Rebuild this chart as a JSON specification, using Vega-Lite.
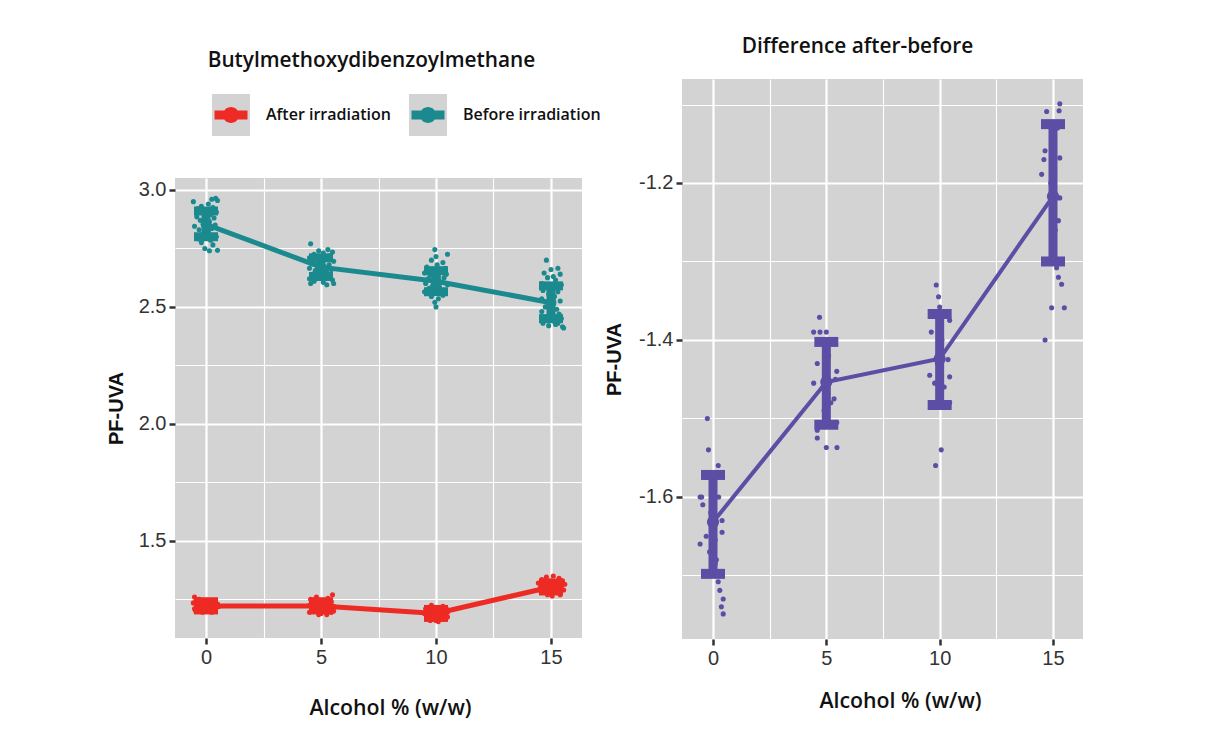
{
  "$schema": "https://vega.github.io/schema/vega-lite/v6.json",
  "background": "white",
  "padding": {"left": 106, "top": 36, "right": 5, "bottom": 5},
  "spacing": 22,
  "config": {
    "view": {"fill": "#d3d3d3", "stroke": null},
    "font": "Open Sans",
    "axis": {
      "domain": false,
      "gridColor": "#ffffff",
      "tickColor": "#333333",
      "tickSize": 6,
      "tickWidth": 2.5,
      "labelFont": "Liberation Sans",
      "labelFontSize": 20,
      "labelColor": "#333333",
      "labelPadding": 3,
      "titleColor": "#111111"
    },
    "title": {"font": "Open Sans", "fontSize": 20.8, "fontWeight": 600, "color": "#111111"}
  },
  "datasets": {
    "summ": [
      {"g": "After irradiation", "k": "ka", "x": 0, "m": 1.222, "lo": 1.205, "hi": 1.24},
      {"g": "After irradiation", "k": "ka", "x": 5, "m": 1.222, "lo": 1.205, "hi": 1.24},
      {"g": "After irradiation", "k": "ka", "x": 10, "m": 1.19, "lo": 1.173, "hi": 1.207},
      {"g": "After irradiation", "k": "ka", "x": 15, "m": 1.303, "lo": 1.286, "hi": 1.32},
      {"g": "Before irradiation", "k": "kb", "x": 0, "m": 2.853, "lo": 2.8, "hi": 2.91},
      {"g": "Before irradiation", "k": "kb", "x": 5, "m": 2.67, "lo": 2.63, "hi": 2.71},
      {"g": "Before irradiation", "k": "kb", "x": 10, "m": 2.61, "lo": 2.565, "hi": 2.655},
      {"g": "Before irradiation", "k": "kb", "x": 15, "m": 2.518, "lo": 2.45, "hi": 2.59},
      {"g": "Difference", "k": "kd", "x": 0, "m": -1.632, "lo": -1.698, "hi": -1.572},
      {"g": "Difference", "k": "kd", "x": 5, "m": -1.4535, "lo": -1.508, "hi": -1.4025},
      {"g": "Difference", "k": "kd", "x": 10, "m": -1.424, "lo": -1.483, "hi": -1.367},
      {"g": "Difference", "k": "kd", "x": 15, "m": -1.217, "lo": -1.3, "hi": -1.125}
    ],
    "pts": [
      {"g": "Before irradiation", "a": -0.55, "v": 2.95},
      {"g": "Before irradiation", "a": 0.42, "v": 2.964},
      {"g": "Before irradiation", "a": 0.25, "v": 2.96},
      {"g": "Before irradiation", "a": 0.5, "v": 2.955},
      {"g": "Before irradiation", "a": 0.1, "v": 2.94},
      {"g": "Before irradiation", "a": -0.2, "v": 2.93},
      {"g": "Before irradiation", "a": 0.3, "v": 2.925},
      {"g": "Before irradiation", "a": -0.35, "v": 2.92},
      {"g": "Before irradiation", "a": 0.05, "v": 2.91},
      {"g": "Before irradiation", "a": 0.45, "v": 2.905},
      {"g": "Before irradiation", "a": -0.1, "v": 2.9},
      {"g": "Before irradiation", "a": 0.2, "v": 2.895},
      {"g": "Before irradiation", "a": -0.4, "v": 2.885},
      {"g": "Before irradiation", "a": 0.35, "v": 2.88},
      {"g": "Before irradiation", "a": -0.25, "v": 2.87},
      {"g": "Before irradiation", "a": 0.15, "v": 2.865},
      {"g": "Before irradiation", "a": -0.05, "v": 2.855},
      {"g": "Before irradiation", "a": 0.4, "v": 2.85},
      {"g": "Before irradiation", "a": -0.5, "v": 2.845},
      {"g": "Before irradiation", "a": 0.25, "v": 2.835},
      {"g": "Before irradiation", "a": -0.3, "v": 2.83},
      {"g": "Before irradiation", "a": 0.1, "v": 2.82},
      {"g": "Before irradiation", "a": -0.15, "v": 2.81},
      {"g": "Before irradiation", "a": 0.45, "v": 2.8},
      {"g": "Before irradiation", "a": -0.4, "v": 2.795},
      {"g": "Before irradiation", "a": 0.2, "v": 2.785},
      {"g": "Before irradiation", "a": -0.2, "v": 2.775},
      {"g": "Before irradiation", "a": 0.3, "v": 2.765},
      {"g": "Before irradiation", "a": -0.05, "v": 2.75},
      {"g": "Before irradiation", "a": 0.5, "v": 2.742},
      {"g": "Before irradiation", "a": 0.15, "v": 2.74},
      {"g": "Before irradiation", "a": -0.3, "v": 2.79},
      {"g": "Before irradiation", "a": 4.55, "v": 2.77},
      {"g": "Before irradiation", "a": 5.3, "v": 2.745},
      {"g": "Before irradiation", "a": 4.9, "v": 2.74},
      {"g": "Before irradiation", "a": 5.5, "v": 2.735},
      {"g": "Before irradiation", "a": 5.1, "v": 2.73},
      {"g": "Before irradiation", "a": 4.7, "v": 2.725},
      {"g": "Before irradiation", "a": 5.4, "v": 2.72},
      {"g": "Before irradiation", "a": 4.5, "v": 2.71},
      {"g": "Before irradiation", "a": 5.2, "v": 2.705},
      {"g": "Before irradiation", "a": 4.8, "v": 2.7},
      {"g": "Before irradiation", "a": 5.55, "v": 2.695},
      {"g": "Before irradiation", "a": 5.0, "v": 2.69},
      {"g": "Before irradiation", "a": 4.6, "v": 2.685},
      {"g": "Before irradiation", "a": 5.35, "v": 2.68},
      {"g": "Before irradiation", "a": 4.85, "v": 2.675},
      {"g": "Before irradiation", "a": 5.15, "v": 2.67},
      {"g": "Before irradiation", "a": 4.5, "v": 2.665},
      {"g": "Before irradiation", "a": 5.45, "v": 2.66},
      {"g": "Before irradiation", "a": 4.75, "v": 2.655},
      {"g": "Before irradiation", "a": 5.25, "v": 2.65},
      {"g": "Before irradiation", "a": 5.05, "v": 2.645},
      {"g": "Before irradiation", "a": 4.65, "v": 2.64},
      {"g": "Before irradiation", "a": 5.4, "v": 2.635},
      {"g": "Before irradiation", "a": 4.9, "v": 2.63},
      {"g": "Before irradiation", "a": 5.2, "v": 2.625},
      {"g": "Before irradiation", "a": 4.5, "v": 2.62},
      {"g": "Before irradiation", "a": 5.5, "v": 2.615},
      {"g": "Before irradiation", "a": 4.7, "v": 2.61},
      {"g": "Before irradiation", "a": 5.1, "v": 2.605},
      {"g": "Before irradiation", "a": 4.55, "v": 2.6},
      {"g": "Before irradiation", "a": 5.25, "v": 2.595},
      {"g": "Before irradiation", "a": 5.55, "v": 2.6},
      {"g": "Before irradiation", "a": 9.95, "v": 2.745},
      {"g": "Before irradiation", "a": 10.5, "v": 2.725},
      {"g": "Before irradiation", "a": 10.0, "v": 2.715},
      {"g": "Before irradiation", "a": 9.8, "v": 2.7},
      {"g": "Before irradiation", "a": 10.3, "v": 2.69},
      {"g": "Before irradiation", "a": 10.05, "v": 2.68},
      {"g": "Before irradiation", "a": 9.6, "v": 2.67},
      {"g": "Before irradiation", "a": 10.4, "v": 2.665},
      {"g": "Before irradiation", "a": 9.9, "v": 2.66},
      {"g": "Before irradiation", "a": 10.2, "v": 2.65},
      {"g": "Before irradiation", "a": 9.5, "v": 2.645},
      {"g": "Before irradiation", "a": 10.45, "v": 2.64},
      {"g": "Before irradiation", "a": 9.75, "v": 2.635},
      {"g": "Before irradiation", "a": 10.1, "v": 2.63},
      {"g": "Before irradiation", "a": 10.35, "v": 2.625},
      {"g": "Before irradiation", "a": 9.65, "v": 2.62},
      {"g": "Before irradiation", "a": 10.0, "v": 2.615},
      {"g": "Before irradiation", "a": 10.25, "v": 2.605},
      {"g": "Before irradiation", "a": 9.55, "v": 2.6},
      {"g": "Before irradiation", "a": 10.5, "v": 2.595},
      {"g": "Before irradiation", "a": 9.85, "v": 2.59},
      {"g": "Before irradiation", "a": 10.15, "v": 2.585},
      {"g": "Before irradiation", "a": 9.7, "v": 2.58},
      {"g": "Before irradiation", "a": 10.4, "v": 2.57},
      {"g": "Before irradiation", "a": 9.5, "v": 2.565},
      {"g": "Before irradiation", "a": 10.05, "v": 2.56},
      {"g": "Before irradiation", "a": 10.3, "v": 2.55},
      {"g": "Before irradiation", "a": 9.8, "v": 2.545},
      {"g": "Before irradiation", "a": 10.1, "v": 2.535},
      {"g": "Before irradiation", "a": 9.95, "v": 2.52},
      {"g": "Before irradiation", "a": 10.0, "v": 2.5},
      {"g": "Before irradiation", "a": 14.8, "v": 2.7},
      {"g": "Before irradiation", "a": 15.3, "v": 2.665},
      {"g": "Before irradiation", "a": 15.0, "v": 2.66},
      {"g": "Before irradiation", "a": 14.7, "v": 2.645},
      {"g": "Before irradiation", "a": 15.4, "v": 2.64},
      {"g": "Before irradiation", "a": 15.1, "v": 2.63},
      {"g": "Before irradiation", "a": 14.85, "v": 2.625},
      {"g": "Before irradiation", "a": 15.2, "v": 2.615},
      {"g": "Before irradiation", "a": 14.6, "v": 2.6},
      {"g": "Before irradiation", "a": 15.45, "v": 2.595},
      {"g": "Before irradiation", "a": 15.0, "v": 2.585},
      {"g": "Before irradiation", "a": 14.65, "v": 2.57},
      {"g": "Before irradiation", "a": 15.3, "v": 2.565},
      {"g": "Before irradiation", "a": 14.9, "v": 2.555},
      {"g": "Before irradiation", "a": 15.15, "v": 2.545},
      {"g": "Before irradiation", "a": 14.6, "v": 2.535},
      {"g": "Before irradiation", "a": 15.4, "v": 2.525},
      {"g": "Before irradiation", "a": 15.05, "v": 2.515},
      {"g": "Before irradiation", "a": 14.75, "v": 2.5},
      {"g": "Before irradiation", "a": 15.25, "v": 2.49},
      {"g": "Before irradiation", "a": 14.6, "v": 2.48},
      {"g": "Before irradiation", "a": 15.35, "v": 2.47},
      {"g": "Before irradiation", "a": 15.0, "v": 2.465},
      {"g": "Before irradiation", "a": 14.7, "v": 2.455},
      {"g": "Before irradiation", "a": 15.45, "v": 2.45},
      {"g": "Before irradiation", "a": 15.1, "v": 2.44},
      {"g": "Before irradiation", "a": 14.65, "v": 2.43},
      {"g": "Before irradiation", "a": 15.2, "v": 2.425},
      {"g": "Before irradiation", "a": 14.9, "v": 2.42},
      {"g": "Before irradiation", "a": 15.5, "v": 2.415},
      {"g": "Before irradiation", "a": 15.55, "v": 2.41},
      {"g": "Before irradiation", "a": 15.3, "v": 2.43},
      {"g": "After irradiation", "a": -0.5, "v": 1.26},
      {"g": "After irradiation", "a": -0.3, "v": 1.25},
      {"g": "After irradiation", "a": 0.1, "v": 1.245},
      {"g": "After irradiation", "a": 0.4, "v": 1.24},
      {"g": "After irradiation", "a": -0.55, "v": 1.235},
      {"g": "After irradiation", "a": 0.2, "v": 1.235},
      {"g": "After irradiation", "a": -0.1, "v": 1.23},
      {"g": "After irradiation", "a": 0.5, "v": 1.23},
      {"g": "After irradiation", "a": -0.4, "v": 1.225},
      {"g": "After irradiation", "a": 0.3, "v": 1.22},
      {"g": "After irradiation", "a": 0.0, "v": 1.22},
      {"g": "After irradiation", "a": -0.2, "v": 1.215},
      {"g": "After irradiation", "a": 0.45, "v": 1.215},
      {"g": "After irradiation", "a": -0.5, "v": 1.21},
      {"g": "After irradiation", "a": 0.15, "v": 1.21},
      {"g": "After irradiation", "a": -0.3, "v": 1.205},
      {"g": "After irradiation", "a": 0.35, "v": 1.205},
      {"g": "After irradiation", "a": 0.05, "v": 1.2},
      {"g": "After irradiation", "a": -0.15, "v": 1.195},
      {"g": "After irradiation", "a": 0.25, "v": 1.195},
      {"g": "After irradiation", "a": -0.45, "v": 1.2},
      {"g": "After irradiation", "a": 0.55, "v": 1.22},
      {"g": "After irradiation", "a": 5.5, "v": 1.27},
      {"g": "After irradiation", "a": 4.8, "v": 1.26},
      {"g": "After irradiation", "a": 5.3, "v": 1.255},
      {"g": "After irradiation", "a": 4.55, "v": 1.25},
      {"g": "After irradiation", "a": 5.1, "v": 1.245},
      {"g": "After irradiation", "a": 5.45, "v": 1.24},
      {"g": "After irradiation", "a": 4.7, "v": 1.235},
      {"g": "After irradiation", "a": 5.2, "v": 1.23},
      {"g": "After irradiation", "a": 4.5, "v": 1.225},
      {"g": "After irradiation", "a": 5.0, "v": 1.225},
      {"g": "After irradiation", "a": 5.55, "v": 1.22},
      {"g": "After irradiation", "a": 4.85, "v": 1.215},
      {"g": "After irradiation", "a": 5.35, "v": 1.21},
      {"g": "After irradiation", "a": 4.6, "v": 1.21},
      {"g": "After irradiation", "a": 5.1, "v": 1.2},
      {"g": "After irradiation", "a": 4.75, "v": 1.2},
      {"g": "After irradiation", "a": 5.45, "v": 1.195},
      {"g": "After irradiation", "a": 5.0, "v": 1.19},
      {"g": "After irradiation", "a": 4.5, "v": 1.195},
      {"g": "After irradiation", "a": 5.25, "v": 1.185},
      {"g": "After irradiation", "a": 5.55, "v": 1.2},
      {"g": "After irradiation", "a": 4.9, "v": 1.185},
      {"g": "After irradiation", "a": 9.8, "v": 1.225},
      {"g": "After irradiation", "a": 10.3, "v": 1.22},
      {"g": "After irradiation", "a": 10.0, "v": 1.215},
      {"g": "After irradiation", "a": 9.55, "v": 1.21},
      {"g": "After irradiation", "a": 10.45, "v": 1.21},
      {"g": "After irradiation", "a": 10.15, "v": 1.205},
      {"g": "After irradiation", "a": 9.7, "v": 1.2},
      {"g": "After irradiation", "a": 10.5, "v": 1.195},
      {"g": "After irradiation", "a": 9.95, "v": 1.195},
      {"g": "After irradiation", "a": 10.25, "v": 1.19},
      {"g": "After irradiation", "a": 9.5, "v": 1.19},
      {"g": "After irradiation", "a": 10.1, "v": 1.185},
      {"g": "After irradiation", "a": 9.65, "v": 1.18},
      {"g": "After irradiation", "a": 10.4, "v": 1.18},
      {"g": "After irradiation", "a": 9.85, "v": 1.175},
      {"g": "After irradiation", "a": 10.2, "v": 1.17},
      {"g": "After irradiation", "a": 9.6, "v": 1.17},
      {"g": "After irradiation", "a": 10.35, "v": 1.165},
      {"g": "After irradiation", "a": 10.0, "v": 1.16},
      {"g": "After irradiation", "a": 9.75, "v": 1.16},
      {"g": "After irradiation", "a": 10.1, "v": 1.155},
      {"g": "After irradiation", "a": 10.5, "v": 1.175},
      {"g": "After irradiation", "a": 15.1, "v": 1.35},
      {"g": "After irradiation", "a": 14.8, "v": 1.345},
      {"g": "After irradiation", "a": 15.35, "v": 1.34},
      {"g": "After irradiation", "a": 14.6, "v": 1.335},
      {"g": "After irradiation", "a": 15.5, "v": 1.33},
      {"g": "After irradiation", "a": 15.0, "v": 1.33},
      {"g": "After irradiation", "a": 14.45, "v": 1.32},
      {"g": "After irradiation", "a": 15.25, "v": 1.325},
      {"g": "After irradiation", "a": 15.6, "v": 1.315},
      {"g": "After irradiation", "a": 14.7, "v": 1.315},
      {"g": "After irradiation", "a": 15.1, "v": 1.31},
      {"g": "After irradiation", "a": 14.55, "v": 1.305},
      {"g": "After irradiation", "a": 15.45, "v": 1.305},
      {"g": "After irradiation", "a": 14.9, "v": 1.3},
      {"g": "After irradiation", "a": 15.3, "v": 1.295},
      {"g": "After irradiation", "a": 14.5, "v": 1.29},
      {"g": "After irradiation", "a": 15.55, "v": 1.29},
      {"g": "After irradiation", "a": 15.0, "v": 1.285},
      {"g": "After irradiation", "a": 14.7, "v": 1.28},
      {"g": "After irradiation", "a": 15.2, "v": 1.28},
      {"g": "After irradiation", "a": 14.85, "v": 1.27},
      {"g": "After irradiation", "a": 15.4, "v": 1.27},
      {"g": "After irradiation", "a": 15.05, "v": 1.265},
      {"g": "Difference", "a": -0.25, "v": -1.5},
      {"g": "Difference", "a": -0.2, "v": -1.54},
      {"g": "Difference", "a": 0.23, "v": -1.56},
      {"g": "Difference", "a": -0.57, "v": -1.6},
      {"g": "Difference", "a": -0.5, "v": -1.6},
      {"g": "Difference", "a": -0.45, "v": -1.61},
      {"g": "Difference", "a": -0.57, "v": -1.66},
      {"g": "Difference", "a": -0.3, "v": -1.65},
      {"g": "Difference", "a": 0.4, "v": -1.63},
      {"g": "Difference", "a": 0.4, "v": -1.645},
      {"g": "Difference", "a": 0.15, "v": -1.68},
      {"g": "Difference", "a": 0.1, "v": -1.685},
      {"g": "Difference", "a": 0.23, "v": -1.708},
      {"g": "Difference", "a": 0.3, "v": -1.719},
      {"g": "Difference", "a": 0.45, "v": -1.73},
      {"g": "Difference", "a": 0.37, "v": -1.74},
      {"g": "Difference", "a": 0.45, "v": -1.749},
      {"g": "Difference", "a": 0.2, "v": -1.57},
      {"g": "Difference", "a": -0.3, "v": -1.575},
      {"g": "Difference", "a": 0.0, "v": -1.59},
      {"g": "Difference", "a": -0.1, "v": -1.62},
      {"g": "Difference", "a": 0.05, "v": -1.64},
      {"g": "Difference", "a": -0.15, "v": -1.67},
      {"g": "Difference", "a": 0.1, "v": -1.655},
      {"g": "Difference", "a": -0.05, "v": -1.69},
      {"g": "Difference", "a": 0.25, "v": -1.6},
      {"g": "Difference", "a": 4.7, "v": -1.371},
      {"g": "Difference", "a": 4.44, "v": -1.39},
      {"g": "Difference", "a": 4.72, "v": -1.39},
      {"g": "Difference", "a": 5.0, "v": -1.39},
      {"g": "Difference", "a": 4.6, "v": -1.43},
      {"g": "Difference", "a": 5.46, "v": -1.44},
      {"g": "Difference", "a": 5.4, "v": -1.45},
      {"g": "Difference", "a": 4.44, "v": -1.455},
      {"g": "Difference", "a": 5.34, "v": -1.475},
      {"g": "Difference", "a": 4.9, "v": -1.49},
      {"g": "Difference", "a": 4.6, "v": -1.515},
      {"g": "Difference", "a": 4.6, "v": -1.525},
      {"g": "Difference", "a": 5.0, "v": -1.537},
      {"g": "Difference", "a": 5.47, "v": -1.537},
      {"g": "Difference", "a": 5.46, "v": -1.505},
      {"g": "Difference", "a": 5.1, "v": -1.42},
      {"g": "Difference", "a": 4.85, "v": -1.46},
      {"g": "Difference", "a": 5.2, "v": -1.48},
      {"g": "Difference", "a": 4.95, "v": -1.41},
      {"g": "Difference", "a": 5.3, "v": -1.4},
      {"g": "Difference", "a": 9.85, "v": -1.33},
      {"g": "Difference", "a": 9.95, "v": -1.345},
      {"g": "Difference", "a": 10.0, "v": -1.358},
      {"g": "Difference", "a": 9.63, "v": -1.39},
      {"g": "Difference", "a": 10.44, "v": -1.375},
      {"g": "Difference", "a": 10.37, "v": -1.425},
      {"g": "Difference", "a": 9.56, "v": -1.445},
      {"g": "Difference", "a": 10.44, "v": -1.447},
      {"g": "Difference", "a": 9.78, "v": -1.455},
      {"g": "Difference", "a": 10.44, "v": -1.48},
      {"g": "Difference", "a": 10.07, "v": -1.54},
      {"g": "Difference", "a": 9.82, "v": -1.56},
      {"g": "Difference", "a": 10.1, "v": -1.4},
      {"g": "Difference", "a": 9.9, "v": -1.43},
      {"g": "Difference", "a": 10.2, "v": -1.46},
      {"g": "Difference", "a": 9.7, "v": -1.37},
      {"g": "Difference", "a": 10.0, "v": -1.47},
      {"g": "Difference", "a": 9.6, "v": -1.485},
      {"g": "Difference", "a": 15.3, "v": -1.099},
      {"g": "Difference", "a": 14.72, "v": -1.109},
      {"g": "Difference", "a": 15.27, "v": -1.108},
      {"g": "Difference", "a": 14.65, "v": -1.159},
      {"g": "Difference", "a": 14.6, "v": -1.17},
      {"g": "Difference", "a": 14.5, "v": -1.189},
      {"g": "Difference", "a": 15.3, "v": -1.168},
      {"g": "Difference", "a": 15.3, "v": -1.219},
      {"g": "Difference", "a": 15.24, "v": -1.248},
      {"g": "Difference", "a": 15.16, "v": -1.308},
      {"g": "Difference", "a": 15.24, "v": -1.32},
      {"g": "Difference", "a": 15.38, "v": -1.329},
      {"g": "Difference", "a": 14.94, "v": -1.359},
      {"g": "Difference", "a": 15.5, "v": -1.359},
      {"g": "Difference", "a": 14.65, "v": -1.4},
      {"g": "Difference", "a": 14.8, "v": -1.125},
      {"g": "Difference", "a": 15.2, "v": -1.13},
      {"g": "Difference", "a": 15.0, "v": -1.15},
      {"g": "Difference", "a": 14.9, "v": -1.2},
      {"g": "Difference", "a": 15.1, "v": -1.26},
      {"g": "Difference", "a": 14.95, "v": -1.29}
    ]
  },
  "hconcat": [
    {
      "bounds": "flush",
      "spacing": 0,
      "vconcat": [
        {
          "width": 407,
          "height": 99,
          "view": {"fill": null, "stroke": null},
          "data": {"values": []},
          "mark": "point",
          "encoding": {}
        },
        {
          "width": 407,
          "height": 460,
          "title": {"text": "Butylmethoxydibenzoylmethane", "frame": "group", "anchor": "middle", "dx": -7, "offset": 106},
          "layer": [
            {
              "data": {"name": "summ"},
              "transform": [{"filter": "datum.g !== 'Difference'"}],
              "mark": {"type": "point", "filled": true, "opacity": 0, "color": "#d3d3d3"},
              "encoding": {
                "x": {"field": "x", "type": "quantitative", "scale": {"domain": [-1.348, 16.348], "nice": false, "zero": false},
                  "axis": {"title": "Alcohol % (w/w)", "titleFont": "Open Sans", "titleFontSize": 21.3, "titleFontWeight": 600, "titlePadding": 30, "titleX": 215,
                    "values": [0, 2.5, 5, 7.5, 10, 12.5, 15],
                    "labelExpr": "datum.value % 5 === 0 ? datum.label : ''",
                    "gridWidth": {"condition": {"test": "datum.value % 5 === 0", "value": 2.2}, "value": 1.1},
                    "tickOpacity": {"condition": {"test": "datum.value % 5 === 0", "value": 1}, "value": 0}}},
                "y": {"field": "m", "type": "quantitative", "scale": {"domain": [1.085, 3.051], "nice": false, "zero": false},
                  "axis": {"title": "PF-UVA", "titleFont": "Liberation Sans", "titleFontSize": 20, "titleFontWeight": "bold", "titlePadding": 12,
                    "values": [1.25, 1.5, 1.75, 2, 2.25, 2.5, 2.75, 3], "format": ".1f",
                    "labelExpr": "abs(datum.value * 2 - round(datum.value * 2)) < 0.001 ? datum.label : ''",
                    "gridWidth": {"condition": {"test": "abs(datum.value * 2 - round(datum.value * 2)) < 0.001", "value": 2.2}, "value": 1.1},
                    "tickOpacity": {"condition": {"test": "abs(datum.value * 2 - round(datum.value * 2)) < 0.001", "value": 1}, "value": 0}}},
                "shape": {"field": "k", "type": "nominal",
                  "scale": {"domain": ["ka", "kb"], "range": ["M-0.95,-1.05H0.95V1.05H-0.95Z", "M-0.95,-1.05H0.95V1.05H-0.95Z"]},
                  "legend": {"orient": "none", "legendX": 36, "legendY": 16, "direction": "horizontal", "title": null,
                    "labelExpr": "datum.value === 'ka' ? 'After irradiation' : 'Before irradiation'",
                    "symbolSize": 1600, "symbolOpacity": 1, "symbolStrokeWidth": 0, "symbolFillColor": "#d3d3d3",
                    "labelFont": "Open Sans", "labelFontSize": 16, "labelFontWeight": 600, "labelColor": "transparent", "labelOffset": 15, "columnPadding": 17, "padding": 0, "zindex": 0}}
              }
            },
            {
              "data": {"name": "summ"},
              "transform": [{"filter": "datum.g !== 'Difference'"}],
              "mark": {"type": "rule", "strokeWidth": 9},
              "encoding": {
                "x": {"field": "x", "type": "quantitative"},
                "y": {"field": "lo", "type": "quantitative"},
                "y2": {"field": "hi"},
                "color": {"field": "g", "type": "nominal",
                  "scale": {"domain": ["After irradiation", "Before irradiation"], "range": ["#ee2a24", "#1b8a8f"]},
                  "legend": {"orient": "none", "legendX": 36, "legendY": 16, "direction": "horizontal", "title": null,
                    "symbolType": "M-0.825,-0.225H0.825V0.225H-0.825Z M0.4,0A0.4,0.4,0,1,1,-0.4,0A0.4,0.4,0,1,1,0.4,0Z",
                    "symbolSize": 1600, "symbolStrokeWidth": 0, "symbolOpacity": 1,
                    "labelFont": "Open Sans", "labelFontSize": 16, "labelFontWeight": 600, "labelColor": "#111111", "labelOffset": 15, "columnPadding": 17, "padding": 0, "zindex": 1}}
              }
            },
            {
              "data": {"name": "summ"},
              "transform": [{"filter": "datum.g !== 'Difference'"}],
              "mark": {"type": "tick", "orient": "horizontal", "thickness": 9, "size": 24},
              "encoding": {"x": {"field": "x", "type": "quantitative"}, "y": {"field": "lo", "type": "quantitative"}, "color": {"field": "g", "type": "nominal"}, "opacity": {"value": 1}}
            },
            {
              "data": {"name": "summ"},
              "transform": [{"filter": "datum.g !== 'Difference'"}],
              "mark": {"type": "tick", "orient": "horizontal", "thickness": 9, "size": 24},
              "encoding": {"x": {"field": "x", "type": "quantitative"}, "y": {"field": "hi", "type": "quantitative"}, "color": {"field": "g", "type": "nominal"}, "opacity": {"value": 1}}
            },
            {
              "data": {"name": "summ"},
              "transform": [{"filter": "datum.g !== 'Difference'"}],
              "mark": {"type": "line", "strokeWidth": 5},
              "encoding": {"x": {"field": "x", "type": "quantitative"}, "y": {"field": "m", "type": "quantitative"}, "color": {"field": "g", "type": "nominal"}}
            },
            {
              "data": {"name": "pts"},
              "transform": [{"filter": "datum.g !== 'Difference'"}],
              "mark": {"type": "point", "filled": true, "opacity": 1, "size": 26},
              "encoding": {"x": {"field": "a", "type": "quantitative"}, "y": {"field": "v", "type": "quantitative"}, "color": {"field": "g", "type": "nominal"}}
            },
            {
              "data": {"name": "summ"},
              "transform": [{"filter": "datum.g !== 'Difference'"}],
              "mark": {"type": "point", "filled": true, "opacity": 1, "size": 120},
              "encoding": {"x": {"field": "x", "type": "quantitative"}, "y": {"field": "m", "type": "quantitative"}, "color": {"field": "g", "type": "nominal"}}
            }
          ]
        }
      ]
    },
    {
      "width": 401,
      "height": 560,
      "title": {"text": "Difference after-before", "frame": "group", "anchor": "middle", "dx": -25, "offset": 21},
      "layer": [
        {
          "data": {"name": "summ"},
          "transform": [{"filter": "datum.g === 'Difference'"}],
          "mark": {"type": "rule", "strokeWidth": 9, "color": "#5c4ea5"},
          "encoding": {
            "x": {"field": "x", "type": "quantitative", "scale": {"domain": [-1.368, 16.324], "nice": false, "zero": false},
              "axis": {"title": "Alcohol % (w/w)", "titleFont": "Open Sans", "titleFontSize": 21.3, "titleFontWeight": 600, "titlePadding": 22, "titleX": 218,
                "values": [0, 2.5, 5, 7.5, 10, 12.5, 15],
                "labelExpr": "datum.value % 5 === 0 ? datum.label : ''",
                "gridWidth": {"condition": {"test": "datum.value % 5 === 0", "value": 2.2}, "value": 1.1},
                "tickOpacity": {"condition": {"test": "datum.value % 5 === 0", "value": 1}, "value": 0}}},
            "y": {"field": "lo", "type": "quantitative", "scale": {"domain": [-1.781, -1.0675], "nice": false, "zero": false},
              "axis": {"title": "PF-UVA", "titleFont": "Liberation Sans", "titleFontSize": 20, "titleFontWeight": "bold", "titlePadding": 14,
                "values": [-1.7, -1.6, -1.5, -1.4, -1.3, -1.2, -1.1], "format": ".1f",
                "labelExpr": "abs(datum.value * 5 - round(datum.value * 5)) < 0.001 ? replace(datum.label, '\u2212', '-') : ''",
                "gridWidth": {"condition": {"test": "abs(datum.value * 5 - round(datum.value * 5)) < 0.001", "value": 2.2}, "value": 1.1},
                "tickOpacity": {"condition": {"test": "abs(datum.value * 5 - round(datum.value * 5)) < 0.001", "value": 1}, "value": 0}}},
            "y2": {"field": "hi"}
          }
        },
        {
          "data": {"name": "summ"},
          "transform": [{"filter": "datum.g === 'Difference'"}],
          "mark": {"type": "tick", "orient": "horizontal", "thickness": 10, "size": 24, "color": "#5c4ea5", "opacity": 1},
          "encoding": {"x": {"field": "x", "type": "quantitative"}, "y": {"field": "lo", "type": "quantitative"}}
        },
        {
          "data": {"name": "summ"},
          "transform": [{"filter": "datum.g === 'Difference'"}],
          "mark": {"type": "tick", "orient": "horizontal", "thickness": 10, "size": 24, "color": "#5c4ea5", "opacity": 1},
          "encoding": {"x": {"field": "x", "type": "quantitative"}, "y": {"field": "hi", "type": "quantitative"}}
        },
        {
          "data": {"name": "summ"},
          "transform": [{"filter": "datum.g === 'Difference'"}],
          "mark": {"type": "line", "strokeWidth": 4, "color": "#5c4ea5"},
          "encoding": {"x": {"field": "x", "type": "quantitative"}, "y": {"field": "m", "type": "quantitative"}}
        },
        {
          "data": {"name": "pts"},
          "transform": [{"filter": "datum.g === 'Difference'"}],
          "mark": {"type": "point", "filled": true, "opacity": 1, "size": 26, "color": "#5c4ea5"},
          "encoding": {"x": {"field": "a", "type": "quantitative"}, "y": {"field": "v", "type": "quantitative"}}
        },
        {
          "data": {"name": "summ"},
          "transform": [{"filter": "datum.g === 'Difference'"}],
          "mark": {"type": "point", "filled": true, "opacity": 1, "size": 150, "color": "#5c4ea5"},
          "encoding": {"x": {"field": "x", "type": "quantitative"}, "y": {"field": "m", "type": "quantitative"}}
        }
      ]
    }
  ]
}
